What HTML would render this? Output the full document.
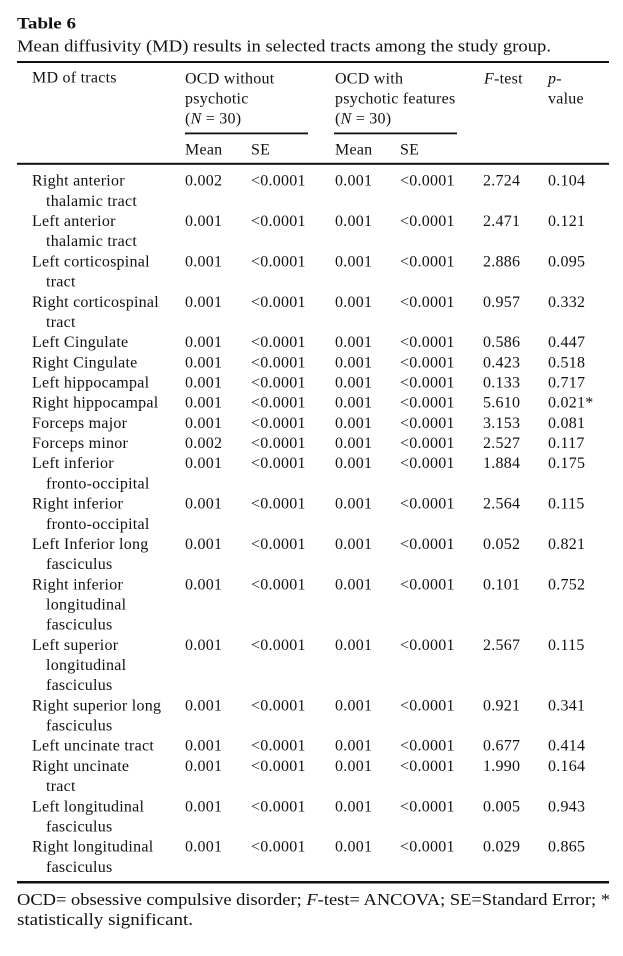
<!DOCTYPE html>
<html><head><meta charset="utf-8"><style>
html,body{margin:0;padding:0;background:#fff;}
svg{display:block;}
text{font-family:"Liberation Serif",serif;fill:#111;}
.t{letter-spacing:0.25px;}
</style></head><body>
<svg width="623" height="956" viewBox="0 0 623 956" xmlns="http://www.w3.org/2000/svg">
<text x="17" y="28.3" font-size="16" font-weight="bold" textLength="59" lengthAdjust="spacingAndGlyphs">Table 6</text>
<text x="17" y="51.7" font-size="17" textLength="534" lengthAdjust="spacingAndGlyphs">Mean diffusivity (MD) results in selected tracts among the study group.</text>
<rect x="17" y="61" width="592" height="2" fill="#111"/>
<g font-size="16" class="t">
<text x="32" y="82.7">MD of tracts</text>
<text x="185" y="83.3">OCD without</text>
<text x="185" y="103.3">psychotic</text>
<text x="185" y="123.3">(<tspan font-style="italic">N</tspan> = 30)</text>
<text x="335" y="83.3">OCD with</text>
<text x="335" y="103.3">psychotic features</text>
<text x="335" y="123.3">(<tspan font-style="italic">N</tspan> = 30)</text>
<text x="484" y="83.3"><tspan font-style="italic">F</tspan>-test</text>
<text x="548" y="83.3"><tspan font-style="italic">p</tspan>-</text>
<text x="548" y="103.3">value</text>
</g>
<rect x="185" y="132.5" width="123" height="1.8" fill="#111"/>
<rect x="334" y="132.5" width="123" height="1.8" fill="#111"/>
<g font-size="16" class="t">
<text x="185" y="154.3">Mean</text>
<text x="251" y="154.3">SE</text>
<text x="335" y="154.3">Mean</text>
<text x="400" y="154.3">SE</text>
</g>
<rect x="17" y="162.8" width="592" height="2" fill="#111"/>

<g font-size="16" class="t">
<text x="32" y="185.7">Right anterior</text><text x="46" y="205.9">thalamic tract</text>
<text x="185" y="185.7">0.002</text><text x="251" y="185.7">&lt;0.0001</text><text x="335" y="185.7">0.001</text><text x="400" y="185.7">&lt;0.0001</text><text x="483" y="185.7">2.724</text><text x="548" y="185.7">0.104</text>

<text x="32" y="226.1">Left anterior</text><text x="46" y="246.2">thalamic tract</text>
<text x="185" y="226.1">0.001</text><text x="251" y="226.1">&lt;0.0001</text><text x="335" y="226.1">0.001</text><text x="400" y="226.1">&lt;0.0001</text><text x="483" y="226.1">2.471</text><text x="548" y="226.1">0.121</text>

<text x="32" y="266.4">Left corticospinal</text><text x="46" y="286.6">tract</text>
<text x="185" y="266.4">0.001</text><text x="251" y="266.4">&lt;0.0001</text><text x="335" y="266.4">0.001</text><text x="400" y="266.4">&lt;0.0001</text><text x="483" y="266.4">2.886</text><text x="548" y="266.4">0.095</text>

<text x="32" y="306.8">Right corticospinal</text><text x="46" y="327.0">tract</text>
<text x="185" y="306.8">0.001</text><text x="251" y="306.8">&lt;0.0001</text><text x="335" y="306.8">0.001</text><text x="400" y="306.8">&lt;0.0001</text><text x="483" y="306.8">0.957</text><text x="548" y="306.8">0.332</text>

<text x="32" y="347.1">Left Cingulate</text>
<text x="185" y="347.1">0.001</text><text x="251" y="347.1">&lt;0.0001</text><text x="335" y="347.1">0.001</text><text x="400" y="347.1">&lt;0.0001</text><text x="483" y="347.1">0.586</text><text x="548" y="347.1">0.447</text>

<text x="32" y="367.3">Right Cingulate</text>
<text x="185" y="367.3">0.001</text><text x="251" y="367.3">&lt;0.0001</text><text x="335" y="367.3">0.001</text><text x="400" y="367.3">&lt;0.0001</text><text x="483" y="367.3">0.423</text><text x="548" y="367.3">0.518</text>

<text x="32" y="387.5">Left hippocampal</text>
<text x="185" y="387.5">0.001</text><text x="251" y="387.5">&lt;0.0001</text><text x="335" y="387.5">0.001</text><text x="400" y="387.5">&lt;0.0001</text><text x="483" y="387.5">0.133</text><text x="548" y="387.5">0.717</text>

<text x="32" y="407.7">Right hippocampal</text>
<text x="185" y="407.7">0.001</text><text x="251" y="407.7">&lt;0.0001</text><text x="335" y="407.7">0.001</text><text x="400" y="407.7">&lt;0.0001</text><text x="483" y="407.7">5.610</text><text x="548" y="407.7">0.021*</text>

<text x="32" y="427.9">Forceps major</text>
<text x="185" y="427.9">0.001</text><text x="251" y="427.9">&lt;0.0001</text><text x="335" y="427.9">0.001</text><text x="400" y="427.9">&lt;0.0001</text><text x="483" y="427.9">3.153</text><text x="548" y="427.9">0.081</text>

<text x="32" y="448.0">Forceps minor</text>
<text x="185" y="448.0">0.002</text><text x="251" y="448.0">&lt;0.0001</text><text x="335" y="448.0">0.001</text><text x="400" y="448.0">&lt;0.0001</text><text x="483" y="448.0">2.527</text><text x="548" y="448.0">0.117</text>

<text x="32" y="468.2">Left inferior</text><text x="46" y="488.4">fronto-occipital</text>
<text x="185" y="468.2">0.001</text><text x="251" y="468.2">&lt;0.0001</text><text x="335" y="468.2">0.001</text><text x="400" y="468.2">&lt;0.0001</text><text x="483" y="468.2">1.884</text><text x="548" y="468.2">0.175</text>

<text x="32" y="508.6">Right inferior</text><text x="46" y="528.8">fronto-occipital</text>
<text x="185" y="508.6">0.001</text><text x="251" y="508.6">&lt;0.0001</text><text x="335" y="508.6">0.001</text><text x="400" y="508.6">&lt;0.0001</text><text x="483" y="508.6">2.564</text><text x="548" y="508.6">0.115</text>

<text x="32" y="548.9">Left Inferior long</text><text x="46" y="569.1">fasciculus</text>
<text x="185" y="548.9">0.001</text><text x="251" y="548.9">&lt;0.0001</text><text x="335" y="548.9">0.001</text><text x="400" y="548.9">&lt;0.0001</text><text x="483" y="548.9">0.052</text><text x="548" y="548.9">0.821</text>

<text x="32" y="589.3">Right inferior</text><text x="46" y="609.5">longitudinal</text><text x="46" y="629.7">fasciculus</text>
<text x="185" y="589.3">0.001</text><text x="251" y="589.3">&lt;0.0001</text><text x="335" y="589.3">0.001</text><text x="400" y="589.3">&lt;0.0001</text><text x="483" y="589.3">0.101</text><text x="548" y="589.3">0.752</text>

<text x="32" y="649.8">Left superior</text><text x="46" y="670.0">longitudinal</text><text x="46" y="690.2">fasciculus</text>
<text x="185" y="649.8">0.001</text><text x="251" y="649.8">&lt;0.0001</text><text x="335" y="649.8">0.001</text><text x="400" y="649.8">&lt;0.0001</text><text x="483" y="649.8">2.567</text><text x="548" y="649.8">0.115</text>

<text x="32" y="710.4">Right superior long</text><text x="46" y="730.6">fasciculus</text>
<text x="185" y="710.4">0.001</text><text x="251" y="710.4">&lt;0.0001</text><text x="335" y="710.4">0.001</text><text x="400" y="710.4">&lt;0.0001</text><text x="483" y="710.4">0.921</text><text x="548" y="710.4">0.341</text>

<text x="32" y="750.7">Left uncinate tract</text>
<text x="185" y="750.7">0.001</text><text x="251" y="750.7">&lt;0.0001</text><text x="335" y="750.7">0.001</text><text x="400" y="750.7">&lt;0.0001</text><text x="483" y="750.7">0.677</text><text x="548" y="750.7">0.414</text>

<text x="32" y="770.9">Right uncinate</text><text x="46" y="791.1">tract</text>
<text x="185" y="770.9">0.001</text><text x="251" y="770.9">&lt;0.0001</text><text x="335" y="770.9">0.001</text><text x="400" y="770.9">&lt;0.0001</text><text x="483" y="770.9">1.990</text><text x="548" y="770.9">0.164</text>

<text x="32" y="811.3">Left longitudinal</text><text x="46" y="831.5">fasciculus</text>
<text x="185" y="811.3">0.001</text><text x="251" y="811.3">&lt;0.0001</text><text x="335" y="811.3">0.001</text><text x="400" y="811.3">&lt;0.0001</text><text x="483" y="811.3">0.005</text><text x="548" y="811.3">0.943</text>

<text x="32" y="851.6">Right longitudinal</text><text x="46" y="871.8">fasciculus</text>
<text x="185" y="851.6">0.001</text><text x="251" y="851.6">&lt;0.0001</text><text x="335" y="851.6">0.001</text><text x="400" y="851.6">&lt;0.0001</text><text x="483" y="851.6">0.029</text><text x="548" y="851.6">0.865</text>
</g>

<rect x="17" y="881" width="592" height="2.5" fill="#111"/>
<text x="17" y="905" font-size="16.5" textLength="593" lengthAdjust="spacingAndGlyphs">OCD= obsessive compulsive disorder; <tspan font-style="italic">F</tspan>-test= ANCOVA; SE=Standard Error; *</text>
<text x="17" y="925" font-size="16.5" textLength="176" lengthAdjust="spacingAndGlyphs">statistically significant.</text>
</svg>
</body></html>
